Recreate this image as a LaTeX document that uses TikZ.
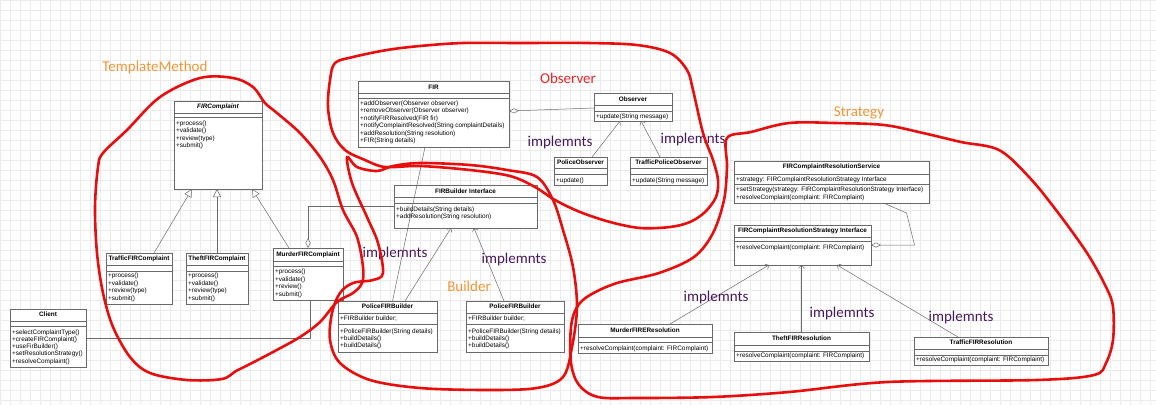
\documentclass[tikz,border=0pt]{standalone}
\usepackage{fontspec}
\setmainfont{Liberation Sans}
\newfontfamily\handfont{Carlito}
\usetikzlibrary{arrows.meta,shadows}

\definecolor{redpen}{RGB}{232,14,14}
\definecolor{umlgray}{RGB}{105,105,105}
\definecolor{tagorange}{RGB}{240,150,55}
\definecolor{tagpurple}{RGB}{72,24,92}
\definecolor{tagred}{RGB}{226,40,40}

\begin{document}
\begin{tikzpicture}
[
  x=1pt, y=-1pt,
  cls/.style={draw=umlgray,fill=white,line width=0.6pt,inner sep=0pt,outer sep=0pt,anchor=north west,
    drop shadow={shadow xshift=1.2pt,shadow yshift=-1.2pt,opacity=0.3}},
  sep/.style={draw=umlgray,line width=0.5pt},
  ttl/.style={font=\fontsize{6.4}{7}\selectfont\bfseries,inner sep=0pt},
  ops/.style={font=\fontsize{6.4}{7.5}\selectfont,align=left,inner sep=0pt,anchor=north west},
  gen/.style={draw=umlgray,line width=0.5pt,-{Triangle[open,length=8pt,width=8pt]}},
  impl/.style={draw=umlgray,line width=0.5pt,-{Straight Barb[length=3pt,width=6pt]}},
  agg/.style={draw=umlgray,line width=0.5pt,-{Diamond[open,length=10pt,width=5pt]}},
  assoc/.style={draw=umlgray,line width=0.5pt},
  pen/.style={draw=redpen,line width=2.6pt,line join=round,line cap=round},
  tag/.style={font=\handfont\fontsize{15}{15}\selectfont,inner sep=0pt}
]

\useasboundingbox (0,0) rectangle (1156,405);
\fill[white] (0,0) rectangle (1156,405);
\foreach \gx in {0,10,...,1150} \draw[gray!16,line width=0.5pt] (\gx,0) -- (\gx,405);
\foreach \gy in {0,10,...,400} \draw[gray!16,line width=0.5pt] (0,\gy) -- (1156,\gy);


% TemplateMethod
\node[cls,minimum width=88pt,minimum height=88pt] (firc) at (174,101) {};
\draw[sep] ([yshift=-12pt]firc.north west) -- ([yshift=-12pt]firc.north east);
\draw[sep] ([yshift=-16pt]firc.north west) -- ([yshift=-16pt]firc.north east);
\node[ttl] (firc-t) at ([yshift=-6pt]firc.north) {\textit{FIRComplaint}};
\node[ops] (firc-m) at ([xshift=2pt,yshift=-19.5pt]firc.north west) {+process()\\+validate()\\+review(type)\\+submit()};

\node[cls,minimum width=66pt,minimum height=51pt] (tfc) at (106,253) {};
\draw[sep] ([yshift=-12pt]tfc.north west) -- ([yshift=-12pt]tfc.north east);
\draw[sep] ([yshift=-18pt]tfc.north west) -- ([yshift=-18pt]tfc.north east);
\node[ttl] (tfc-t) at ([yshift=-6pt]tfc.north) {TrafficFIRComplaint};
\node[ops] (tfc-m) at ([xshift=2pt,yshift=-20pt]tfc.north west) {+process()\\+validate()\\+review(type)\\+submit()};

\node[cls,minimum width=62pt,minimum height=51pt] (thfc) at (186,253) {};
\draw[sep] ([yshift=-12pt]thfc.north west) -- ([yshift=-12pt]thfc.north east);
\draw[sep] ([yshift=-18pt]thfc.north west) -- ([yshift=-18pt]thfc.north east);
\node[ttl] (thfc-t) at ([yshift=-6pt]thfc.north) {TheftFIRComplaint};
\node[ops] (thfc-m) at ([xshift=2pt,yshift=-20pt]thfc.north west) {+process()\\+validate()\\+review(type)\\+submit()};

\node[cls,minimum width=70pt,minimum height=52pt] (mfc) at (273,248) {};
\draw[sep] ([yshift=-13pt]mfc.north west) -- ([yshift=-13pt]mfc.north east);
\draw[sep] ([yshift=-18pt]mfc.north west) -- ([yshift=-18pt]mfc.north east);
\node[ttl] (mfc-t) at ([yshift=-6.5pt]mfc.north) {MurderFIRComplaint};
\node[ops] (mfc-m) at ([xshift=2pt,yshift=-21pt]mfc.north west) {+process()\\+validate()\\+review()\\+submit()};

\node[cls,minimum width=76pt,minimum height=58pt] (client) at (10,309) {};
\draw[sep] ([yshift=-12pt]client.north west) -- ([yshift=-12pt]client.north east);
\draw[sep] ([yshift=-17pt]client.north west) -- ([yshift=-17pt]client.north east);
\node[ttl] (client-t) at ([yshift=-5.5pt]client.north) {Client};
\node[ops,font=\fontsize{6.4}{7.2}\selectfont] (client-m) at ([xshift=2pt,yshift=-20.5pt]client.north west)
  {+selectComplaintType()\\+createFIRComplaint()\\+useFirBuilder()\\+setResolutionStrategy()\\+resolveComplaint()};

\draw[gen] ([xshift=15pt]tfc.north) -- ([xshift=-26pt]firc.south);
\draw[gen] (thfc.north) -- ([xshift=-1pt]firc.south);
\draw[gen] ([xshift=-19pt]mfc.north) -- ([xshift=34pt]firc.south);
\draw[assoc] (client.east) -- ([xshift=2pt]mfc.south |- client.east) -- ([xshift=2pt]mfc.south);


% Observer
\node[cls,minimum width=151pt,minimum height=66pt] (fir) at (358,81) {};
\draw[sep] ([yshift=-12pt]fir.north west) -- ([yshift=-12pt]fir.north east);
\draw[sep] ([yshift=-17pt]fir.north west) -- ([yshift=-17pt]fir.north east);
\node[ttl] (fir-t) at ([yshift=-6pt]fir.north) {FIR};
\node[ops] (fir-m) at ([xshift=2pt,yshift=-19.5pt]fir.north west)
  {+addObserver(Observer observer)\\+removeObserver(Observer observer)\\+notifyFIRResolved(FIR fir)\\
   +notifyComplaintResolved(String complaintDetails)\\+addResolution(String resolution)\\+FIR(String details)};

\node[cls,minimum width=78pt,minimum height=28pt] (obs) at (594,93) {};
\draw[sep] ([yshift=-12pt]obs.north west) -- ([yshift=-12pt]obs.north east);
\draw[sep] ([yshift=-18pt]obs.north west) -- ([yshift=-18pt]obs.north east);
\node[ttl] (obs-t) at ([yshift=-6pt]obs.north) {Observer};
\node[ops] (obs-m) at ([xshift=2pt,yshift=-20.5pt]obs.north west) {+update(String message)};

\node[cls,minimum width=53pt,minimum height=28pt] (pobs) at (554,157) {};
\draw[sep] ([yshift=-11pt]pobs.north west) -- ([yshift=-11pt]pobs.north east);
\draw[sep] ([yshift=-17pt]pobs.north west) -- ([yshift=-17pt]pobs.north east);
\node[ttl] (pobs-t) at ([yshift=-5.5pt]pobs.north) {PoliceObserver};
\node[ops] (pobs-m) at ([xshift=2pt,yshift=-20.5pt]pobs.north west) {+update()};

\node[cls,minimum width=77pt,minimum height=28pt] (tpobs) at (630,157) {};
\draw[sep] ([yshift=-11pt]tpobs.north west) -- ([yshift=-11pt]tpobs.north east);
\draw[sep] ([yshift=-17pt]tpobs.north west) -- ([yshift=-17pt]tpobs.north east);
\node[ttl] (tpobs-t) at ([yshift=-5.5pt]tpobs.north) {TrafficPoliceObserver};
\node[ops] (tpobs-m) at ([xshift=2pt,yshift=-20.5pt]tpobs.north west) {+update(String message)};

\draw[agg] ([yshift=-1pt]obs.west) -- ([yshift=3pt]fir.east);
\draw[impl] ([xshift=11.5pt]pobs.north) -- ([xshift=-13pt]obs.south);
\draw[impl] ([xshift=-8.5pt]tpobs.north) -- ([xshift=8pt]obs.south);


% Builder
\node[cls,minimum width=143pt,minimum height=43pt] (fbi) at (394,185) {};
\draw[sep] ([yshift=-12pt]fbi.north west) -- ([yshift=-12pt]fbi.north east);
\draw[sep] ([yshift=-18pt]fbi.north west) -- ([yshift=-18pt]fbi.north east);
\node[ttl] (fbi-t) at ([yshift=-6pt]fbi.north) {FIRBuilder Interface};
\node[ops,font=\fontsize{6.4}{7}\selectfont] (fbi-m) at ([xshift=2pt,yshift=-21.5pt]fbi.north west)
  {+buildDetails(String details)\\+addResolution(String resolution)};

\node[cls,minimum width=99pt,minimum height=51pt] (pfb1) at (338,301) {};
\draw[sep] ([yshift=-12pt]pfb1.north west) -- ([yshift=-12pt]pfb1.north east);
\draw[sep] ([yshift=-23pt]pfb1.north west) -- ([yshift=-23pt]pfb1.north east);
\node[ttl] (pfb1-t) at ([yshift=-5.5pt]pfb1.north) {PoliceFIRBuilder};
\node[ops] (pfb1-a) at ([xshift=2pt,yshift=-14.8pt]pfb1.north west) {+FIRBuilder builder;};
\node[ops,font=\fontsize{6.4}{7}\selectfont] (pfb1-m) at ([xshift=2pt,yshift=-27.5pt]pfb1.north west)
  {+PoliceFIRBuilder(String details)\\+buildDetails()\\+buildDetails()};

\node[cls,minimum width=98pt,minimum height=51pt] (pfb2) at (466,301) {};
\draw[sep] ([yshift=-12pt]pfb2.north west) -- ([yshift=-12pt]pfb2.north east);
\draw[sep] ([yshift=-23pt]pfb2.north west) -- ([yshift=-23pt]pfb2.north east);
\node[ttl] (pfb2-t) at ([yshift=-5.5pt]pfb2.north) {PoliceFIRBuilder};
\node[ops] (pfb2-a) at ([xshift=2pt,yshift=-14.8pt]pfb2.north west) {+FIRBuilder builder;};
\node[ops,font=\fontsize{6.4}{7}\selectfont] (pfb2-m) at ([xshift=2pt,yshift=-27.5pt]pfb2.north west)
  {+PoliceFIRBuilder(String details)\\+buildDetails()\\+buildDetails()};

\draw[assoc] ([xshift=-8.5pt]fir.south) -- ([xshift=5pt]pfb1.north);
\draw[impl] ([xshift=17.5pt]pfb1.north) -- ([xshift=-14.5pt]fbi.south);
\draw[impl] ([xshift=-11pt]pfb2.north) -- ([xshift=8.5pt]fbi.south);
\draw[agg] (fbi.west) -- (fbi.west -| mfc.north) -- (mfc.north);


% Strategy
\node[cls,minimum width=195pt,minimum height=42pt] (crs) at (734,161) {};
\draw[sep] ([yshift=-13pt]crs.north west) -- ([yshift=-13pt]crs.north east);
\draw[sep] ([yshift=-23pt]crs.north west) -- ([yshift=-23pt]crs.north east);
\node[ttl] (crs-t) at ([yshift=-6pt]crs.north) {FIRComplaintResolutionService};
\node[ops] (crs-a) at ([xshift=2pt,yshift=-15.5pt]crs.north west) {+strategy: FIRComplaintResolutionStrategy Interface};
\node[ops,font=\fontsize{6.4}{8}\selectfont] (crs-m) at ([xshift=2pt,yshift=-25.5pt]crs.north west)
  {+setStrategy(strategy: FIRComplaintResolutionStrategy Interface)\\+resolveComplaint(complaint: FIRComplaint)};

\node[cls,minimum width=137pt,minimum height=40pt] (cri) at (734,225) {};
\draw[sep] ([yshift=-12pt]cri.north west) -- ([yshift=-12pt]cri.north east);
\draw[sep] ([yshift=-16pt]cri.north west) -- ([yshift=-16pt]cri.north east);
\node[ttl] (cri-t) at ([yshift=-6pt]cri.north) {FIRComplaintResolutionStrategy Interface};
\node[ops] (cri-m) at ([xshift=2pt,yshift=-19.5pt]cri.north west) {+resolveComplaint(complaint: FIRComplaint)};

\node[cls,minimum width=134pt,minimum height=29pt] (mfr) at (578,324) {};
\draw[sep] ([yshift=-13pt]mfr.north west) -- ([yshift=-13pt]mfr.north east);
\draw[sep] ([yshift=-18pt]mfr.north west) -- ([yshift=-18pt]mfr.north east);
\node[ttl] (mfr-t) at ([yshift=-6.5pt]mfr.north) {MurderFIREResolution};
\node[ops] (mfr-m) at ([xshift=2pt,yshift=-21.5pt]mfr.north west) {+resolveComplaint(complaint: FIRComplaint)};

\node[cls,minimum width=135pt,minimum height=29pt] (tfr) at (734,332) {};
\draw[sep] ([yshift=-13pt]tfr.north west) -- ([yshift=-13pt]tfr.north east);
\draw[sep] ([yshift=-19pt]tfr.north west) -- ([yshift=-19pt]tfr.north east);
\node[ttl] (tfr-t) at ([yshift=-6.5pt]tfr.north) {TheftFIRResolution};
\node[ops] (tfr-m) at ([xshift=2pt,yshift=-20.5pt]tfr.north west) {+resolveComplaint(complaint: FIRComplaint)};

\node[cls,minimum width=134pt,minimum height=28pt] (trfr) at (914,337) {};
\draw[sep] ([yshift=-12pt]trfr.north west) -- ([yshift=-12pt]trfr.north east);
\draw[sep] ([yshift=-18pt]trfr.north west) -- ([yshift=-18pt]trfr.north east);
\node[ttl] (trfr-t) at ([yshift=-5.5pt]trfr.north) {TrafficFIRResolution};
\node[ops] (trfr-m) at ([xshift=2pt,yshift=-19.5pt]trfr.north west) {+resolveComplaint(complaint: FIRComplaint)};

\draw[agg] ([xshift=52pt]crs.south) -- ++(23,10) -- ++(8,32) -- (cri.east);
\draw[impl] ([xshift=25pt]mfr.north) -- ([xshift=-33.5pt]cri.south);
\draw[impl] (tfr.north) -- (tfr.north |- cri.south);
\draw[impl] ([xshift=-23pt]trfr.north) -- ([xshift=34.5pt]cri.south);


% pattern labels
\node[tag,text=tagorange] (tTM) at (155,67) {TemplateMethod};
\node[tag,text=tagred] (tObs) at (568,78) {Observer};
\node[tag,text=tagorange] (tBld) at (469,286) {Builder};
\node[tag,text=tagorange] (tStr) at (859,113) {Strategy};

\node[tag,text=tagpurple] (im1) at (560,142) {implemnts};
\node[tag,text=tagpurple] (im2) at (693,139) {implemnts};
\node[tag,text=tagpurple] (im3) at (395,253) {implemnts};
\node[tag,text=tagpurple] (im4) at (514,259) {implemnts};
\node[tag,text=tagpurple] (im5) at (716,297) {implemnts};
\node[tag,text=tagpurple] (im6) at (842,313) {implemnts};
\node[tag,text=tagpurple] (im7) at (961,317) {implemnts};


% hand drawn outlines
\draw[pen] plot[smooth cycle,tension=0.55] coordinates {(265,103) (277,113) (300,133) (320,157) (333,180)
  (343,210) (357,237) (363,267) (362,283) (353,293) (337,302) (320,322) (300,337) (273,352) (250,364)
  (236,371) (222,379) (187,380) (150,373) (130,357) (113,327) (103,293) (97,253) (95,207) (98,167)
  (103,153) (127,130) (160,97) (200,78) (233,78) (253,87)};

\draw[pen] plot[smooth cycle,tension=0.55] coordinates {(335,63) (353,57) (387,50) (420,46) (463,43)
  (520,43) (587,43) (637,45) (670,53) (687,70) (693,90) (703,133) (713,160) (718,180) (716,197)
  (705,212) (690,222) (670,227) (640,228) (610,222) (580,212) (555,200) (535,187) (510,176)
  (470,170) (420,166) (385,167) (365,160) (345,150) (333,133) (328,107) (330,80)};

\draw[pen] plot[smooth cycle,tension=0.55] coordinates {(347,157) (357,167) (377,171) (393,166) (420,163)
  (470,165) (507,170) (537,177) (553,200) (563,230) (573,267) (577,307) (572,347) (563,377)
  (537,388) (487,390) (420,388) (370,380) (340,363) (330,340) (332,313) (340,293) (353,283)
  (373,280) (383,273) (378,243) (367,217) (352,183)};

\draw[pen] plot[smooth cycle,tension=0.55] coordinates {(727,138) (751,132) (789,123) (835,123) (884,125)
  (923,133) (961,142) (999,150) (1029,177) (1056,210) (1087,253) (1106,287) (1113,307) (1113,340)
  (1106,363) (1094,375) (1037,380) (888,382) (789,392) (713,397) (636,398) (598,397) (579,385)
  (571,363) (571,327) (577,307) (590,295) (617,283) (659,273) (694,257) (713,233) (724,200) (727,167)};

\end{tikzpicture}
\end{document}
